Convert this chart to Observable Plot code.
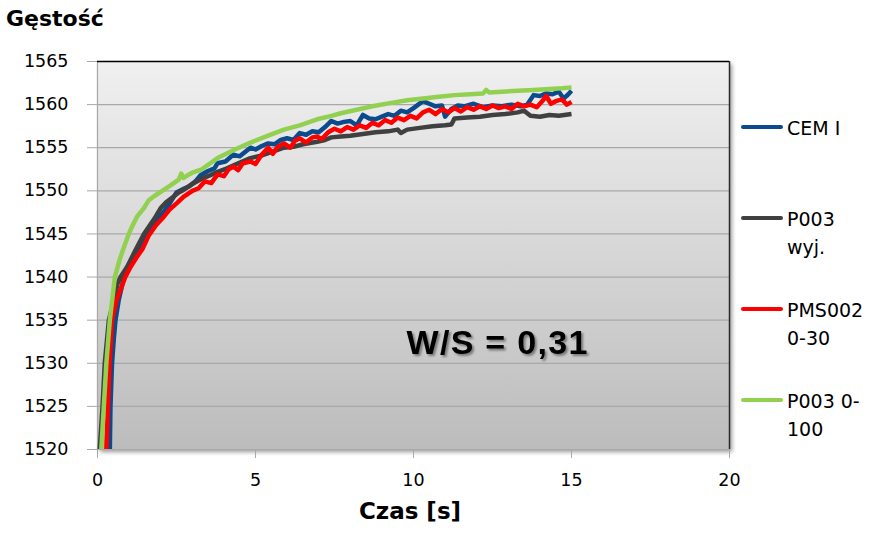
<!DOCTYPE html>
<html>
<head>
<meta charset="utf-8">
<script src="https://cdn.jsdelivr.net/npm/d3@7"></script>
<script src="https://cdn.jsdelivr.net/npm/@observablehq/plot@0.6"></script>
<style>
  body { margin: 0; background: #fff; }
  #wrap { position: relative; width: 886px; height: 533px; font-family: "DejaVu Sans", Verdana, sans-serif; color: #000; overflow: hidden; }
  #wrap svg { position: absolute; left: 0; top: 0; }
  .title { position: absolute; left: 6px; top: 8px; font-size: 22px; line-height: 22px; font-weight: bold; white-space: nowrap; }
  .xlabel { position: absolute; left: 310px; width: 200px; top: 500px; text-align: center; font-size: 23px; line-height: 23px; font-weight: bold; white-space: nowrap; }
  .leg { position: absolute; left: 741px; font-size: 19px; line-height: 28px; white-space: nowrap; }
  .leg .sw { position: absolute; left: 0; width: 42px; height: 4px; border-radius: 2px; }
  .leg .tx { position: absolute; left: 46px; top: 0; }
</style>
</head>
<body>
<div id="wrap"></div>
<script>
// ---- data ----
const titleText = "Gęstość";
const xLabelText = "Czas [s]";
const xDomain = [0, 20];
const yDomain = [1520, 1565];
const xTicks = [0, 5, 10, 15, 20];
const yTicks = [1520, 1525, 1530, 1535, 1540, 1545, 1550, 1555, 1560, 1565];

const seriesNames = ["CEM I", "P003 wyj.", "PMS002 0-30", "P003 0-100"];
const seriesColors = ["#0b4a8c", "#404040", "#ff0000", "#92d050"];
const legendLines = [["CEM I"], ["P003", "wyj."], ["PMS002", "0-30"], ["P003 0-", "100"]];

const cemT = [0.37, 0.39, 0.41, 0.46, 0.52, 0.57, 0.67, 0.84, 1.0, 1.15, 1.32, 1.5, 1.7, 1.89, 2.1, 2.26, 2.5, 2.7, 2.9, 3.1, 3.26, 3.5, 3.7, 3.8, 4.05, 4.3, 4.5, 4.7, 4.84, 5.0, 5.2, 5.4, 5.6, 5.8, 6.0, 6.2, 6.4, 6.6, 6.8, 7.0, 7.2, 7.4, 7.6, 7.8, 8.0, 8.2, 8.4, 8.6, 8.8, 9.0, 9.2, 9.4, 9.6, 9.8, 10.0, 10.3, 10.5, 10.7, 10.9, 11.0, 11.2, 11.4, 11.6, 11.9, 12.2, 12.5, 12.8, 13.1, 13.4, 13.6, 13.8, 14.0, 14.2, 14.4, 14.6, 14.75, 14.9, 15.0];
const cemV = [1508, 1520, 1525, 1530, 1533, 1535, 1537.3, 1540, 1541.3, 1542.3, 1543.2, 1544.5, 1545.6, 1546.6, 1547.6, 1548.4, 1549.8, 1550.2, 1550.5, 1551.1, 1551.8, 1552.3, 1552.6, 1553.2, 1553.4, 1554.2, 1554.0, 1554.6, 1555.0, 1554.8, 1555.2, 1555.5, 1555.4, 1555.9, 1556.1, 1555.9, 1556.7, 1556.5, 1556.9, 1556.8, 1557.4, 1558.1, 1557.8, 1558.0, 1558.1, 1557.6, 1558.8, 1558.4, 1558.3, 1558.6, 1558.9, 1558.7, 1559.3, 1559.1, 1559.6, 1560.4, 1560.1, 1559.8, 1559.9, 1558.6, 1559.5, 1559.9, 1559.8, 1560.1, 1559.7, 1559.9, 1559.8, 1560.0, 1559.8, 1560.0, 1561.1, 1561.0, 1561.3, 1561.2, 1561.5, 1560.7, 1561.2, 1561.6];

const grayT = [0.06, 0.07, 0.16, 0.23, 0.36, 0.52, 0.63, 0.73, 0.94, 1.2, 1.47, 1.84, 2.0, 2.15, 2.4, 2.57, 2.72, 3.0, 3.3, 3.5, 3.8, 4.1, 4.4, 4.84, 5.2, 5.5, 5.9, 6.2, 6.5, 6.95, 7.2, 7.4, 7.7, 8.0, 8.4, 8.8, 9.2, 9.5, 9.6, 9.8, 10.2, 10.6, 11.0, 11.2, 11.3, 11.7, 12.1, 12.5, 12.9, 13.3, 13.5, 13.7, 14.0, 14.3, 14.6, 15.0];
const grayV = [1512, 1520, 1525, 1530, 1535, 1537.3, 1539.2, 1540, 1541.2, 1543.1, 1545, 1547, 1548.0, 1548.6, 1549.3, 1549.8, 1550.1, 1550.8, 1551.4, 1551.7, 1552.2, 1552.6, 1553.1, 1553.8, 1554.1, 1554.5, 1555.0, 1555.1, 1555.4, 1555.7, 1555.9, 1556.2, 1556.3, 1556.4, 1556.6, 1556.8, 1556.9, 1557.1, 1556.7, 1557.1, 1557.3, 1557.5, 1557.6, 1557.7, 1558.4, 1558.5, 1558.6, 1558.8, 1558.9, 1559.1, 1559.3, 1558.7, 1558.6, 1558.8, 1558.7, 1558.9];

const redT = [0.27, 0.28, 0.33, 0.38, 0.46, 0.6, 0.88, 1.05, 1.24, 1.43, 1.62, 1.85, 2.1, 2.3, 2.52, 2.72, 3.0, 3.2, 3.4, 3.6, 3.8, 4.0, 4.15, 4.3, 4.45, 4.6, 4.84, 5.0, 5.2, 5.4, 5.55, 5.7, 5.9, 6.1, 6.25, 6.4, 6.6, 6.8, 6.95, 7.1, 7.3, 7.5, 7.7, 7.9, 8.1, 8.3, 8.5, 8.7, 8.9, 9.1, 9.3, 9.5, 9.7, 9.9, 10.1, 10.3, 10.5, 10.7, 10.9, 11.1, 11.3, 11.5, 11.7, 11.9, 12.1, 12.3, 12.5, 12.7, 12.9, 13.1, 13.3, 13.5, 13.7, 13.9, 14.05, 14.2, 14.35, 14.5, 14.7, 14.85, 15.0];
const redV = [1510, 1520, 1525, 1530, 1535, 1537.3, 1540, 1541.2, 1542.3, 1543.3, 1544.8, 1546.0, 1547.0, 1547.9, 1548.6, 1549.3, 1550.0, 1550.3, 1551.1, 1550.9, 1551.9, 1551.7, 1552.5, 1552.8, 1552.4, 1553.2, 1553.4, 1553.1, 1554.2, 1555.0, 1554.3, 1555.1, 1555.5, 1555.0, 1555.8, 1556.1, 1555.6, 1556.2, 1556.3, 1556.0, 1556.8, 1557.2, 1556.9, 1557.4, 1557.1, 1557.6, 1557.3, 1557.9, 1557.6, 1558.2, 1557.9, 1558.5, 1558.2, 1558.7, 1558.4, 1559.1, 1559.4, 1558.9, 1559.5, 1559.1, 1559.6, 1559.2, 1559.7, 1559.4, 1559.8, 1559.5, 1559.9, 1559.6, 1559.8, 1559.5, 1560.1, 1559.8, 1560.0, 1559.7, 1560.3, 1561.0, 1560.1, 1560.4, 1560.6, 1560.0, 1560.3];

const greenT = [0.11, 0.12, 0.2, 0.28, 0.39, 0.55, 0.7, 0.83, 0.99, 1.1, 1.25, 1.45, 1.62, 1.8, 2.05, 2.3, 2.57, 2.65, 2.72, 2.85, 3.0, 3.3, 3.8, 4.3, 4.84, 5.4, 5.9, 6.4, 6.95, 7.4, 7.7, 8.2, 8.7, 9.3, 9.8, 10.3, 10.8, 11.3, 11.8, 12.2, 12.3, 12.4, 12.8, 13.3, 13.8, 14.3, 14.7, 15.0];
const greenV = [1512, 1520, 1525, 1530, 1535, 1540, 1542.0, 1543.4, 1545.0, 1545.9, 1547.0, 1547.9, 1548.9, 1549.4, 1550.0, 1550.6, 1551.3, 1552.0, 1551.5, 1551.8, 1552.1, 1552.5, 1553.8, 1554.7, 1555.6, 1556.4, 1557.1, 1557.6, 1558.3, 1558.7, 1559.0, 1559.4, 1559.8, 1560.2, 1560.5, 1560.7, 1560.9, 1561.1, 1561.2, 1561.3, 1561.7, 1561.4, 1561.5, 1561.6, 1561.7, 1561.8, 1561.9, 1562.0];

const annotations = [{ label: "W/S = 0,31", t: 12.66, v: 1532.3 }];

// ---- build ----
const seriesT = [cemT, grayT, redT, greenT];
const seriesV = [cemV, grayV, redV, greenV];
const rows = seriesNames.flatMap((name, k) =>
  seriesT[k].map((t, i) => ({ name, t, v: seriesV[k][i] })));

const font = "'DejaVu Sans', Verdana, sans-serif";
const gridColor = "#a8a8a8";

const chart = Plot.plot({
  width: 886,
  height: 533,
  marginLeft: 97,
  marginRight: 157,
  marginTop: 61,
  marginBottom: 84,
  style: { fontFamily: font, fontSize: "17.5px", color: "#000", background: "transparent", overflow: "visible" },
  x: { domain: xDomain, ticks: xTicks },
  y: { domain: yDomain, ticks: yTicks },
  color: { domain: seriesNames, range: seriesColors },
  marks: [
    Plot.frame({ fill: "url(#plotBg)", stroke: "none" }),
    Plot.ruleY(yTicks, { stroke: gridColor, strokeWidth: 1.2 }),
    Plot.ruleX([xDomain[0]], { stroke: gridColor, strokeWidth: 1.2 }),
    Plot.axisY({ ticks: yTicks, tickSize: 10, tickPadding: 19, stroke: gridColor, label: null, fontSize: 17.5, tickFormat: d => String(d) }),
    Plot.axisX({ ticks: xTicks, tickSize: 9, tickPadding: 15, stroke: gridColor, label: null, fontSize: 17.5, tickFormat: d => String(d) }),
    Plot.line(rows, { x: "t", y: "v", z: "name", stroke: "name", strokeWidth: 4.5, clip: true, strokeLinejoin: "round", strokeLinecap: "butt" }),
    Plot.ruleY([yDomain[1]], { stroke: "#000", strokeWidth: 1.5 }),
    Plot.ruleX([xDomain[1]], { stroke: "#2a2a2a", strokeWidth: 1.5 }),
    Plot.text(annotations, { x: "t", y: "v", text: "label", fill: "#000", fontSize: 34, fontWeight: "bold", fontFamily: "'Liberation Sans', Arial, sans-serif" })
  ]
});

// gradient background + shadows
const svg = d3.select(chart);
const defs = svg.insert("defs", ":first-child");
const grad = defs.append("linearGradient").attr("id", "plotBg").attr("x1", 0).attr("y1", 0).attr("x2", 0).attr("y2", 1);
grad.append("stop").attr("offset", "0%").attr("stop-color", "#f0f0f0");
grad.append("stop").attr("offset", "100%").attr("stop-color", "#bcbcbc");
const flt = defs.append("filter").attr("id", "shadowBlur").attr("x", "-5%").attr("y", "-5%").attr("width", "110%").attr("height", "110%");
flt.append("feGaussianBlur").attr("stdDeviation", 2);
const tf = defs.append("filter").attr("id", "textShadow").attr("x", "-10%").attr("y", "-20%").attr("width", "120%").attr("height", "150%");
tf.append("feDropShadow").attr("dx", 2).attr("dy", 2).attr("stdDeviation", 1.3).attr("flood-color", "#000").attr("flood-opacity", 0.4);

const sx = chart.scale("x"), sy = chart.scale("y");
const x0 = sx.apply(xDomain[0]), x1 = sx.apply(xDomain[1]);
const y0 = sy.apply(yDomain[1]), y1 = sy.apply(yDomain[0]);
const frameNode = svg.select('[aria-label="frame"]').node();
svg.insert("rect", () => frameNode)
  .attr("x", x0 + 3).attr("y", y0 + 3).attr("width", x1 - x0).attr("height", y1 - y0)
  .attr("fill", "#9a9a9a").attr("filter", "url(#shadowBlur)");

svg.selectAll('[aria-label="text"] text').style("letter-spacing", "1.3px").attr("filter", "url(#textShadow)");

const wrap = document.getElementById("wrap");
wrap.appendChild(chart);

const title = document.createElement("div");
title.className = "title";
title.textContent = titleText;
wrap.appendChild(title);

const xl = document.createElement("div");
xl.className = "xlabel";
xl.textContent = xLabelText;
wrap.appendChild(xl);

const legTops = [114, 205, 296, 387];
legendLines.forEach((lines, i) => {
  const d = document.createElement("div");
  d.className = "leg";
  d.style.top = legTops[i] + "px";
  const sw = document.createElement("div");
  sw.className = "sw";
  sw.style.background = seriesColors[i];
  sw.style.top = "11px";
  d.appendChild(sw);
  const tx = document.createElement("div");
  tx.className = "tx";
  tx.innerHTML = lines.map(s => s.replace(/&/g, "&amp;")).join("<br>");
  d.appendChild(tx);
  wrap.appendChild(d);
});
</script>
</body>
</html>
